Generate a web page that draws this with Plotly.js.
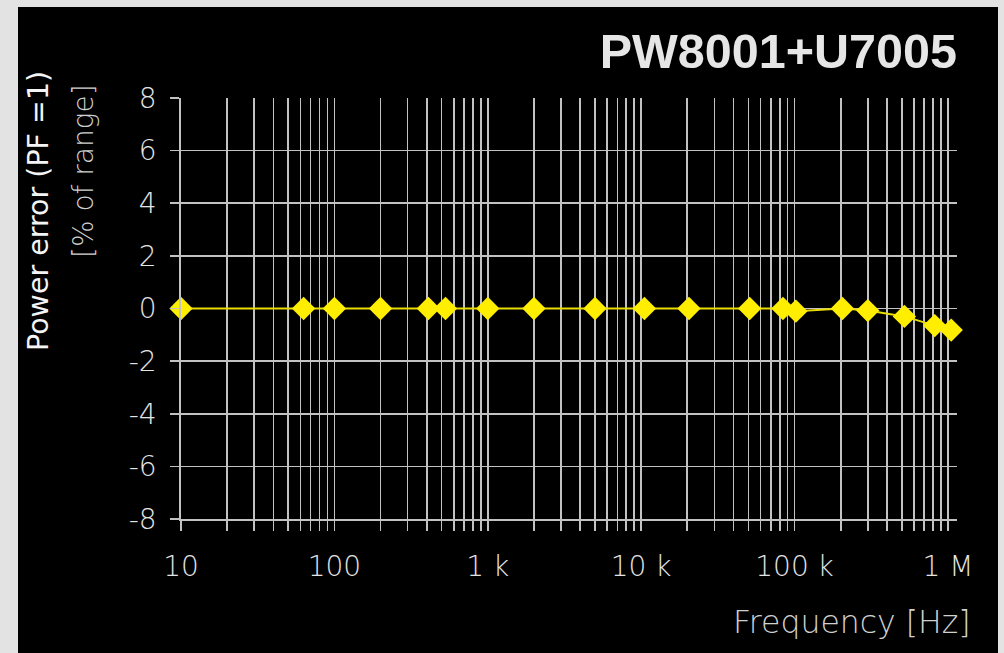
<!DOCTYPE html>
<html>
<head>
<meta charset="utf-8">
<script src="https://cdn.plot.ly/plotly-3.0.1.min.js"></script>
<style>
  html, body { margin: 0; padding: 0; background: #e3e3e3; width: 1004px; height: 653px; overflow: hidden; }
  #chart { position: absolute; left: 18px; top: 7px; width: 980px; height: 646px; background: #000; }
</style>
</head>
<body>
<div id="chart"></div>
<script>
// Data
const frequencyHz = [10, 63, 100, 200, 410, 530, 1000, 2000, 5000, 10500, 20500, 51000, 84000, 102000, 205000, 300000, 520000, 820000, 1050000];
const powerErrorPct = [0, 0, 0, 0, 0, 0, 0, 0, 0, 0, 0, 0, 0, -0.1, 0, -0.08, -0.3, -0.65, -0.82];

const chartTitle = 'PW8001+U7005';
const yTitleLine1 = 'Power error (PF =1)';
const yTitleLine2 = '[% of range]';
const xTitle = 'Frequency [Hz]';

const yTickVals = [8, 6, 4, 2, 0, -2, -4, -6, -8];
const yTickText = ['8', '6', '4', '2', '0', '-2', '-4', '-6', '-8'];

const decadeLabels = {10: '10', 100: '100', 1000: '1 k', 10000: '10 k', 100000: '100 k', 1000000: '1 M'};
const xTickVals = [];
const xTickText = [];
for (let e = 1; e <= 6; e++) {
  const base = Math.pow(10, e);
  const maxM = (e === 6) ? 1 : 9;
  for (let m = 1; m <= maxM; m++) {
    const v = m * base;
    xTickVals.push(v);
    xTickText.push(m === 1 ? decadeLabels[base] : '');
  }
}

const gridColor = '#c2c2c2';
const textColor = '#e4e4e4';
const fontFam = 'DejaVu Sans, Liberation Sans, sans-serif';

const trace = {
  x: frequencyHz,
  y: powerErrorPct,
  type: 'scatter',
  mode: 'lines+markers',
  line: { color: '#e8dc00', width: 2 },
  marker: { symbol: 'diamond', size: 18, color: '#ffee00' },
  cliponaxis: false,
  hoverinfo: 'skip'
};

const L = 163, R = 41, T = 91, B = 134;
const W = 980, H = 646;
const pw = W - L - R, ph = H - T - B;
const px = v => (v - L) / pw;
const py = v => 1 - (v - T) / ph;

const layout = {
  width: W,
  height: H,
  paper_bgcolor: '#000000',
  plot_bgcolor: '#000000',
  margin: { l: L, r: R, t: T, b: B, pad: 0 },
  showlegend: false,
  title: {
    text: chartTitle,
    font: { family: 'Liberation Sans, Arial, sans-serif', size: 48.5, color: '#e6e6e6', weight: 'bold' },
    xref: 'container', yref: 'container',
    x: 939 / W, xanchor: 'right',
    y: 1 - 44 / H, yanchor: 'middle'
  },
  xaxis: {
    type: 'log',
    range: [1, 6.059],
    tickmode: 'array',
    tickvals: xTickVals,
    ticktext: xTickText,
    ticks: 'outside',
    ticklen: 10,
    tickwidth: 1.7,
    tickcolor: gridColor,
    ticklabelstandoff: 12,
    showgrid: true,
    gridcolor: gridColor,
    gridwidth: 1.7,
    showline: true,
    linecolor: gridColor,
    linewidth: 1.7,
    mirror: false,
    zeroline: false,
    tickfont: { family: fontFam, size: 28, color: textColor, weight: 200 }
  },
  yaxis: {
    range: [-8, 8],
    tickmode: 'array',
    tickvals: yTickVals,
    ticktext: yTickText,
    ticks: 'outside',
    ticklen: 9,
    tickwidth: 1.7,
    tickcolor: gridColor,
    ticklabelstandoff: 8,
    showgrid: true,
    gridcolor: gridColor,
    gridwidth: 1.7,
    showline: true,
    linecolor: gridColor,
    linewidth: 1.7,
    mirror: false,
    zeroline: false,
    tickfont: { family: fontFam, size: 28, color: textColor, weight: 200 }
  },
  annotations: [
    {
      text: yTitleLine1, xref: 'paper', yref: 'paper',
      x: px(20), y: py(204), xanchor: 'center', yanchor: 'middle',
      textangle: -90, showarrow: false,
      font: { family: fontFam, size: 28.5, color: '#f4f4f4' }
    },
    {
      text: yTitleLine2, xref: 'paper', yref: 'paper',
      x: px(65), y: py(164), xanchor: 'center', yanchor: 'middle',
      textangle: -90, showarrow: false,
      font: { family: fontFam, size: 28, color: '#d0d0d0', weight: 200 }
    },
    {
      text: xTitle, xref: 'paper', yref: 'paper',
      x: px(955), y: py(615), xanchor: 'right', yanchor: 'middle',
      showarrow: false,
      font: { family: fontFam, size: 31.5, color: '#d0d0d0', weight: 200 }
    }
  ]
};

Plotly.newPlot('chart', [trace], layout, { displayModeBar: false, staticPlot: true });
</script>
</body>
</html>
